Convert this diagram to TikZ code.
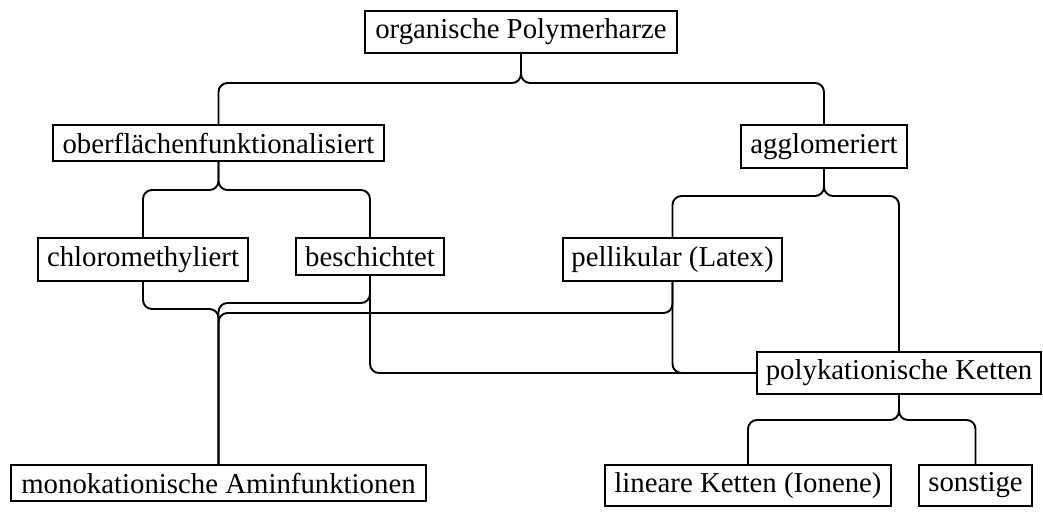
\documentclass[tikz,border=0pt]{standalone}
\usepackage{fontspec}
\setmainfont{Liberation Serif}
\begin{document}
\begin{tikzpicture}[x=1pt,y=-1pt,
  box/.style={draw, line width=1.9pt, inner sep=0pt, font=\fontsize{28.8}{34}\selectfont},
  conn/.style={line width=1.9pt, rounded corners=9pt}]
\useasboundingbox (0,0) rectangle (1043,511);
% boxes
\node[box, minimum width=312.1pt, minimum height=42.1pt] (org)   at (521,32)     {organische Polymerharze};
\node[box, minimum width=331.1pt, minimum height=36.1pt] (ober)  at (218.5,143)  {oberflächenfunktionalisiert};
\node[box, minimum width=166.1pt, minimum height=43.1pt] (agg)   at (824,146.5)  {agglomeriert};
\node[box, minimum width=210.1pt, minimum height=43.1pt] (chlor) at (143,259.5)  {chloromethyliert};
\node[box, minimum width=148.1pt, minimum height=37.1pt] (besch) at (370,256.5)  {beschichtet};
\node[box, minimum width=219.1pt, minimum height=43.1pt] (pell)  at (672.5,259.5){pellikular (Latex)};
\node[box, minimum width=284.1pt, minimum height=42.1pt] (poly)  at (899,373)    {polykationische Ketten};
\node[box, minimum width=415.1pt, minimum height=36.1pt] (mono)  at (218.5,483)  {monokationische Aminfunktionen};
\node[box, minimum width=286.1pt, minimum height=41.1pt] (lin)   at (748,485.5)  {lineare Ketten (Ionene)};
\node[box, minimum width=113.1pt, minimum height=41.1pt] (sonst) at (975.5,485.5){sonstige};
% connectors
\draw[conn] (org.south) |- (ober.north |- 0,83) -- (ober.north);
\draw[conn] (org.south) |- (agg.north |- 0,83) -- (agg.north);
\draw[conn] (ober.south) |- (chlor.north |- 0,190) -- (chlor.north);
\draw[conn] (ober.south) |- (besch.north |- 0,190) -- (besch.north);
\draw[conn] (agg.south) |- (pell.north |- 0,196) -- (pell.north);
\draw[conn] (agg.south) |- (poly.north |- 0,196) -- (poly.north);
\draw[conn] (poly.south) |- (lin.north |- 0,420) -- (lin.north);
\draw[conn] (poly.south) |- (sonst.north |- 0,420) -- (sonst.north);
\draw[conn] (chlor.south) |- (mono.north |- 0,309) -- (mono.north);
\draw[conn] (besch.south) |- (mono.north |- 0,303) -- (mono.north);
\draw[conn] (pell.south) |- (mono.north |- 0,313) -- (mono.north);
\draw[conn] (besch.south) |- (poly.west);
\draw[conn] (pell.south) |- (poly.west);
\end{tikzpicture}
\end{document}
